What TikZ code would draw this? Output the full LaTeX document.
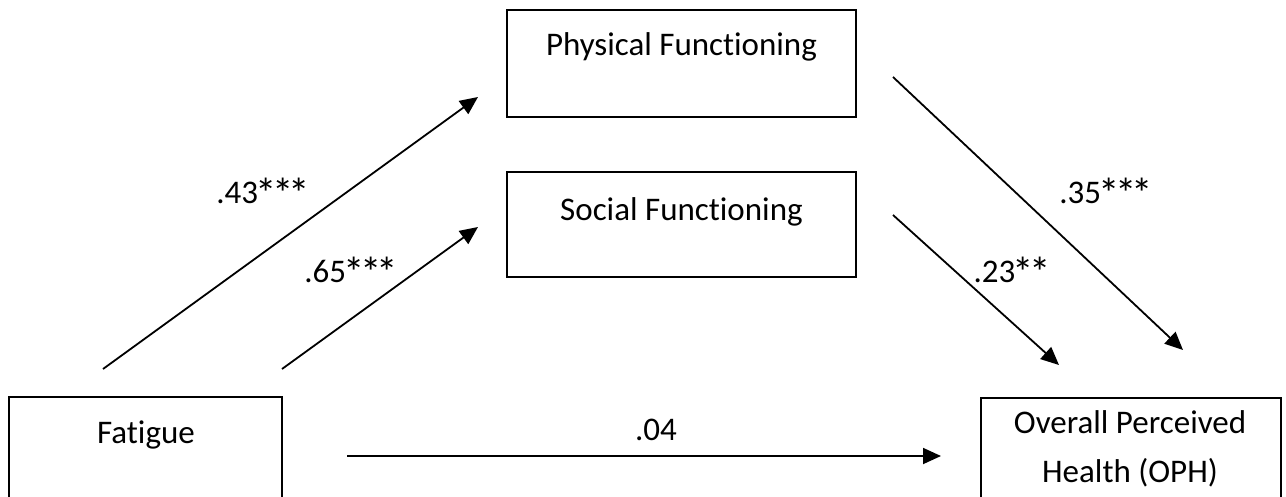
\documentclass[tikz,border=0pt]{standalone}
\usepackage{fontspec}
\setmainfont{Carlito}[Ligatures=NoCommon]
\usetikzlibrary{arrows.meta}
\newcommand\sig{\makebox[0.5em]{\raisebox{-5pt}{\scalebox{1.3}{*}}}}

\begin{document}
\begin{tikzpicture}[x=1pt, y=-1pt,
        box/.style={draw, line width=1.6pt, inner sep=0pt},
        txt/.style={anchor=base, inner sep=0pt, font=\fontsize{33}{40}\selectfont},
        path/.style={line width=1.8pt, -{Triangle[length=18pt, width=16pt]}}]
    \useasboundingbox (0,0) rectangle (1286,496);
    % boxes
    \node[box, minimum width=349pt, minimum height=107pt] (phys) at (681.5,63.5) {};
    \node[box, minimum width=349pt, minimum height=105pt] (soc) at (681.5,224.5) {};
    \node[box, minimum width=273pt, minimum height=108pt] (fat) at (145.5,451) {};
    \node[box, minimum width=300pt, minimum height=107pt] (oph) at (1131,451.5) {};
    \node[txt] (physlab) at (681.5,55) {Physical Functioning};
    \node[txt] (soclab) at (681.5,220) {Social Functioning};
    \node[txt] (fatlab) at (146,443) {Fatigue};
    \node[txt] (ophlab) at (1130,433) {Overall Perceived};
    \node[txt] (ophlabb) at (1130,482) {Health (OPH)};
    % path ends
    \coordinate (fp) at (103,369);  \coordinate (pf) at (478,97);
    \coordinate (fs) at (282,369);  \coordinate (sf) at (478,227);
    \coordinate (po) at (893,77);   \coordinate (op) at (1183,350);
    \coordinate (so) at (893,215);  \coordinate (os) at (1059,365);
    \coordinate (fo) at (347,456);  \coordinate (of) at (941,456);
    \foreach \a/\b in {fp/pf, fs/sf, po/op, so/os, fo/of}
        \draw[path] (\a) -- (\b);
    % coefficients
    \node[txt] (c1) at (262,203) {.43\sig\sig\sig};
    \node[txt] (c2) at (350,282) {.65\sig\sig\sig};
    \node[txt] (c3) at (1105,203) {.35\sig\sig\sig};
    \node[txt] (c4) at (1011,282) {.23\sig\sig};
    \node[txt] (c5) at (656,440) {.04};
\end{tikzpicture}
\end{document}
